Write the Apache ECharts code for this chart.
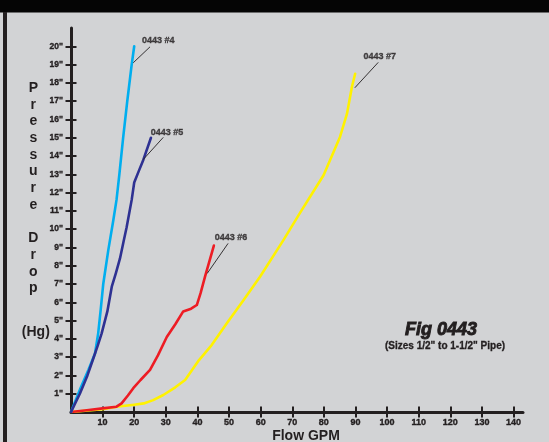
<!DOCTYPE html>
<html><head><meta charset="utf-8">
<script src="https://cdn.jsdelivr.net/npm/echarts@6/dist/echarts.min.js"></script>
<style>html,body{margin:0;padding:0;background:#d2d3d5;overflow:hidden}#c{width:549px;height:442px}</style>
</head><body><div id="c"></div><script>
// ---- data ----
const xTicks = [10,20,30,40,50,60,70,80,90,100,110,120,130,140];
const yTicks = [1,2,3,4,5,6,7,8,9,10,11,12,13,14,15,16,17,18,19,20];
// [Flow GPM, Pressure drop inches Hg]
const s4 = [[0,0],[3,1.3],[5.5,2.3],[7.6,3.2],[8.6,4.3],[9.4,5.6],[10.2,7],[11.8,8.85],[13.4,10.5],[14.4,11.6],[15.3,13],[16.5,15],[17.8,17],[19.2,19],[20,20]];
const s5 = [[0,0],[2.8,1],[5.2,2],[7,2.9],[8.4,3.6],[9.7,4.3],[11.5,5.5],[12.9,6.85],[14.2,7.6],[15.5,8.4],[16.6,9.3],[17.6,10.1],[19.2,11.6],[20,12.55],[21.5,13.2],[22.9,13.8],[25.3,15]];
const s6 = [[0,0],[5,0.1],[10,0.2],[14.4,0.29],[16,0.47],[18,0.9],[19.7,1.3],[22,1.75],[25,2.3],[27.5,3.1],[30.3,4.1],[33,4.8],[35.5,5.5],[38,5.65],[39.8,5.85],[41,6.5],[42.4,7.4],[45.2,9.1]];
const s7 = [[0,0],[10,0.15],[15,0.3],[20,0.4],[23,0.47],[26,0.65],[29.2,0.93],[33,1.35],[36.1,1.75],[40.5,2.84],[44.5,3.66],[49.3,4.85],[54.5,6.1],[59.8,7.4],[67.2,9.4],[72.5,10.9],[79.9,12.95],[85.1,15.04],[87.3,16.3],[88.9,17.8],[89.9,18.5]];
const curveNames = ['0443 #4','0443 #5','0443 #6','0443 #7'];
const labelPos = [[27.6,20.3],[30.4,15.27],[50.6,9.53],[97.7,19.43]];
const leaders = [
  [[25.0,19.97],[19.7,19.1]],
  [[29.2,15.02],[22.8,13.8]],
  [[49.7,9.22],[43.1,7.58]],
  [[97.2,19.12],[89.8,17.73]]
];
const yLetters = ['P','r','e','s','s','u','r','e','','D','r','o','p'];
const yUnit = '(Hg)';
const xName = 'Flow GPM';
const figTitle = 'Fig 0443';
const figSub = '(Sizes 1/2" to 1-1/2" Pipe)';

// ---- chart ----
const INK = '#231f20';
const FONT = '"Liberation Sans", Arial, Helvetica, sans-serif';
const chart = echarts.init(document.getElementById('c'), null, {renderer:'canvas'});

const tickCommon = {lineStyle:{color:INK,width:2}, length:5.5};
const smallText = {color:INK,fontFamily:FONT,fontWeight:'bold',textBorderColor:INK,textBorderWidth:0.35};
const series = [];
const lineDefs = [[s7,'#fff200',curveNames[3]],[s6,'#ed1c24',curveNames[2]],[s4,'#00aeef',curveNames[0]],[s5,'#2e3192',curveNames[1]]];
lineDefs.forEach(([d,c,n]) => series.push({
  type:'line', name:n, data:d, showSymbol:false, symbol:'none', smooth:false,
  lineStyle:{color:c,width:2.6,cap:'round',join:'round'}, z:3, animation:false
}));
leaders.forEach(l => series.push({
  type:'line', data:l, showSymbol:false, symbol:'none', silent:true,
  lineStyle:{color:INK,width:0.9}, z:4, animation:false
}));
series.push({
  type:'scatter', symbolSize:0, silent:true, animation:false, z:5,
  data: curveNames.map((n,i)=>({name:n, value:labelPos[i]})),
  label:Object.assign({show:true, position:'inside', formatter:'{b}', fontSize:9}, smallText)
});

chart.setOption({
  backgroundColor:'#d2d3d5',
  animation:false,
  grid:{left:71, right:26, top:28, bottom:30, containLabel:false},
  xAxis:[{
    type:'value', min:0, max:143, position:'bottom',
    axisLine:{show:true,onZero:false,lineStyle:{color:INK,width:3}},
    axisTick:Object.assign({show:true,inside:false,customValues:xTicks},tickCommon),
    axisLabel:Object.assign({show:true,customValues:xTicks,margin:6,fontSize:9},smallText),
    splitLine:{show:false}
  },{
    type:'value', min:0, max:143, position:'bottom',
    axisLine:{show:false},
    axisTick:Object.assign({show:true,inside:true,customValues:xTicks},tickCommon),
    axisLabel:{show:false}, splitLine:{show:false}
  }],
  yAxis:[{
    type:'value', min:0, max:21, position:'left',
    axisLine:{show:true,onZero:false,lineStyle:{color:INK,width:3}},
    axisTick:Object.assign({show:true,inside:false,customValues:yTicks},tickCommon),
    axisLabel:Object.assign({show:true,customValues:yTicks,margin:8,fontSize:8.5,formatter:v=>v+'"'},smallText),
    splitLine:{show:false}
  },{
    type:'value', min:0, max:21, position:'left',
    axisLine:{show:false},
    axisTick:Object.assign({show:true,inside:true,customValues:yTicks},tickCommon),
    axisLabel:{show:false}, splitLine:{show:false}
  }],
  graphic:[
    {type:'rect', shape:{x:0,y:0,width:549,height:12.5}, style:{fill:'#050505'}, silent:true},
    {type:'rect', shape:{x:3,y:12,width:4,height:430}, style:{fill:INK}, silent:true},
    {type:'text', x:33.3, y:79.7, silent:true, style:{text:yLetters.join('\n'), align:'center', verticalAlign:'top', lineHeight:16.7, fill:INK, font:'bold 14px '+FONT}},
    {type:'text', x:35.8, y:331.7, silent:true, style:{text:yUnit, align:'center', verticalAlign:'middle', fill:INK, font:'bold 14px '+FONT}},
    {type:'text', x:306, y:436, silent:true, style:{text:xName, align:'center', verticalAlign:'middle', fill:INK, font:'bold 14px '+FONT}},
    {type:'text', x:441, y:330, silent:true, style:{text:figTitle, align:'center', verticalAlign:'middle', fill:INK, stroke:INK, lineWidth:0.9, font:'italic bold 18px '+FONT}},
    {type:'text', x:445, y:346, silent:true, style:{text:figSub, align:'center', verticalAlign:'middle', fill:INK, stroke:INK, lineWidth:0.3, font:'bold 10px '+FONT}}
  ],
  series: series
});
</script></body></html>
